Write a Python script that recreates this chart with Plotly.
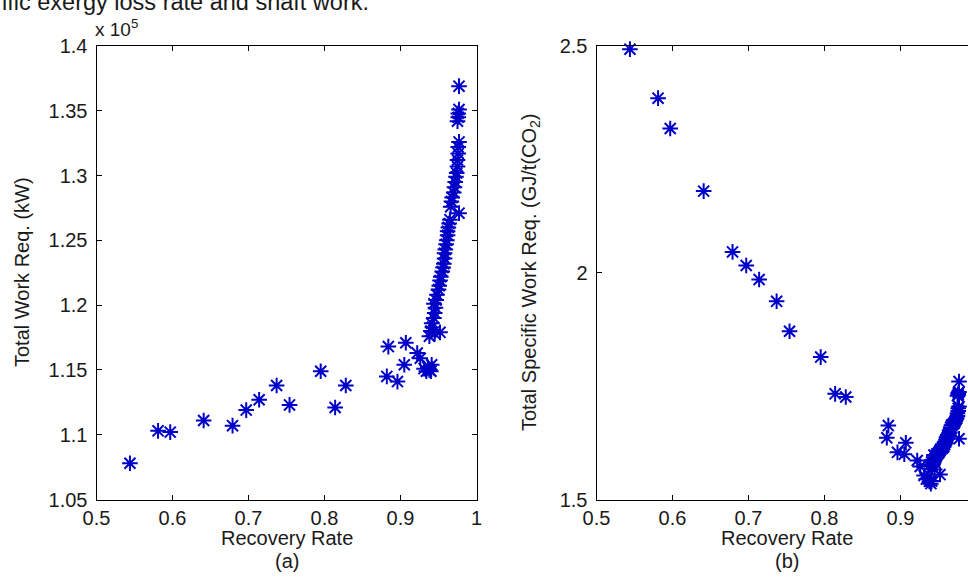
import plotly.graph_objects as go

# ---------------- data ----------------
recovery_rate = [
    0.544, 0.581, 0.597, 0.641, 0.679, 0.697, 0.714, 0.737, 0.754, 0.795,
    0.814, 0.828, 0.884, 0.907, 0.882, 0.896, 0.905, 0.922, 0.926, 0.931,
    0.941, 0.934, 0.936, 0.938, 0.940,
    0.938, 0.940, 0.942, 0.941, 0.944, 0.945, 0.946, 0.944, 0.947, 0.948,
    0.950, 0.951, 0.952, 0.953, 0.955, 0.956, 0.957, 0.958, 0.958, 0.959,
    0.960, 0.961, 0.962, 0.962, 0.963, 0.964, 0.965, 0.977, 0.966, 0.967,
    0.968, 0.970, 0.971, 0.972, 0.973, 0.974, 0.975, 0.975, 0.976, 0.976,
    0.977, 0.975, 0.976, 0.976, 0.977, 0.977, 0.952, 0.945,
]

total_work_kw = [
    107800, 110300, 110200, 111100, 110700, 111900, 112700, 113800, 112300, 114900,
    112100, 113800, 116800, 117100, 114500, 114100, 115400, 116300, 115900, 115100,
    115400, 114900, 115200, 115000, 114900,
    117600, 118000, 118300, 118600, 119000, 119400, 119800, 120100, 120400, 120800,
    121200, 121500, 121900, 122200, 122600, 122900, 123200, 123600, 124000, 124300,
    124700, 125000, 125400, 125700, 126000, 126300, 126600, 127100, 127600, 128000,
    128300, 128700, 129100, 129500, 129900, 130200, 130700, 131200, 131700, 132200,
    132600, 134200, 134500, 134800, 135100, 136900, 117900, 117800,
]

specific_work = [
    2.493, 2.385, 2.318, 2.180, 2.046, 2.016, 1.985, 1.937, 1.871, 1.814,
    1.733, 1.726, 1.663, 1.625, 1.636, 1.604, 1.600, 1.586, 1.573, 1.553,
    1.541, 1.545, 1.546, 1.540, 1.535,
    1.575, 1.577, 1.577, 1.583, 1.583, 1.587, 1.591, 1.598, 1.597, 1.601,
    1.602, 1.605, 1.608, 1.611, 1.613, 1.615, 1.617, 1.621, 1.626, 1.628,
    1.632, 1.634, 1.637, 1.641, 1.643, 1.646, 1.648, 1.634, 1.659, 1.663,
    1.665, 1.667, 1.670, 1.673, 1.677, 1.679, 1.684, 1.690, 1.695, 1.701,
    1.705, 1.729, 1.731, 1.735, 1.737, 1.760, 1.555, 1.566,
]

x_tick_vals = [0.5, 0.6, 0.7, 0.8, 0.9, 1.0]
x_tick_text = ["0.5", "0.6", "0.7", "0.8", "0.9", "1"]
work_tick_vals = [105000, 110000, 115000, 120000, 125000, 130000, 135000, 140000]
work_tick_text = ["1.05", "1.1", "1.15", "1.2", "1.25", "1.3", "1.35", "1.4"]
spec_tick_vals = [1.5, 2.0, 2.5]
spec_tick_text = ["1.5", "2", "2.5"]

# ---------------- layout helpers ----------------
W, H = 968, 580
FONT = "Liberation Sans, Arial, sans-serif"
FS = 20
TXT = "#1a1a1a"
BLUE = "#0000c8"


def px_x(p):
    return p / W


def px_y(p):
    return 1 - p / H


plot_top, plot_bot = 46, 499.5
left_l, left_r = 96.5, 476.5
right_l = 596.5
right_r_full = 976.5  # right edge of the panel lies beyond the picture
x_span = 0.5 / (left_r - left_l)  # data units per pixel
right_xmax = 0.5 + (W - right_l) * x_span

fig = go.Figure()

marker = dict(symbol="asterisk-open", size=13, color=BLUE,
              line=dict(width=2, color=BLUE))

fig.add_trace(go.Scatter(x=recovery_rate, y=total_work_kw, mode="markers",
                         marker=marker, xaxis="x", yaxis="y",
                         showlegend=False, hoverinfo="skip", cliponaxis=False))
fig.add_trace(go.Scatter(x=recovery_rate, y=specific_work, mode="markers",
                         marker=marker, xaxis="x2", yaxis="y2",
                         showlegend=False, hoverinfo="skip", cliponaxis=False))

axis_common = dict(
    showgrid=False, zeroline=False, showline=True, linecolor="black",
    linewidth=1, ticks="inside", ticklen=5, tickwidth=1, tickcolor="black",
    automargin=False,
    tickfont=dict(family=FONT, size=FS, color=TXT),
)

ydom = [px_y(plot_bot), px_y(plot_top)]

fig.update_layout(
    template="none",
    width=W, height=H, autosize=False,
    margin=dict(l=0, r=0, t=0, b=0, pad=0),
    paper_bgcolor="white", plot_bgcolor="white",
    font=dict(family=FONT, size=FS, color=TXT),
    xaxis=dict(domain=[px_x(left_l), px_x(left_r)], range=[0.5, 1.0],
               tickvals=x_tick_vals, ticktext=x_tick_text, mirror="ticks",
               anchor="y", **axis_common),
    yaxis=dict(domain=ydom, range=[105000, 140000],
               tickvals=work_tick_vals, ticktext=work_tick_text,
               mirror="ticks", anchor="x", ticklabelstandoff=4,
               **axis_common),
    xaxis2=dict(domain=[px_x(right_l), 1.0], range=[0.5, right_xmax],
                tickvals=x_tick_vals, ticktext=x_tick_text, mirror="ticks",
                anchor="y2", **axis_common),
    yaxis2=dict(domain=ydom, range=[1.5, 2.5],
                tickvals=spec_tick_vals, ticktext=spec_tick_text,
                mirror=False, anchor="x2", ticklabelstandoff=4,
                **axis_common),
)

ann = []


def add_text(text, x, y, size=FS, xanchor="center", yanchor="middle", angle=0):
    ann.append(dict(text=text, x=px_x(x), y=px_y(y), xref="paper", yref="paper",
                    xanchor=xanchor, yanchor=yanchor, showarrow=False,
                    textangle=angle,
                    font=dict(family=FONT, size=size, color=TXT)))


left_c = (left_l + left_r) / 2
right_c = (right_l + right_r_full) / 2

# cut-off caption line at the very top
add_text("ific exergy loss rate and shaft work.", 0, 2, size=23.5,
         xanchor="left")
# exponent label
add_text("x 10<sup>5</sup>", 93, 28, size=19, xanchor="left")
# x titles and panel captions
add_text("Recovery Rate", left_c, 538)
add_text("(a)", left_c, 561)
add_text("Recovery Rate", right_c, 538)
add_text("(b)", right_c, 561)
# y titles
add_text("Total Work Req. (kW)", 22, 272, angle=-90)
add_text("Total Specific Work Req. (GJ/t(CO<sub>2</sub>)", 530, 272, angle=-90)

fig.update_layout(annotations=ann)

fig.write_html(
    "out.html",
    config={"displayModeBar": False, "staticPlot": True},
    post_script="document.body.style.margin='0';"
                "document.body.style.overflow='hidden';",
)
